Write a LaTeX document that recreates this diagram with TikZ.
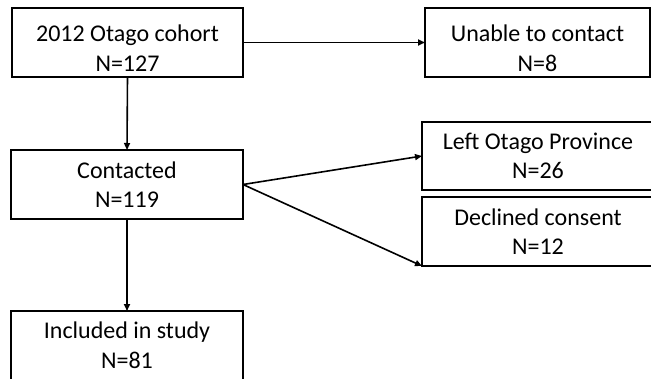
\documentclass[tikz,border=0pt]{standalone}
\usepackage{fontspec}
\setmainfont{Carlito}
\usetikzlibrary{arrows.meta}
\newcommand{\lowstrut}{\rule{0pt}{28pt}}
\begin{document}
\begin{tikzpicture}[x=1pt,y=-1pt,
  box/.style={draw=black, line width=1.6pt, rectangle, inner sep=0pt, outer sep=0pt,
    minimum height=69pt, align=center, font=\fontsize{24}{29.5}\selectfont, text=black},
  arr/.style={line width=1.6pt, -{Triangle[length=7pt,width=6pt]}}]
\useasboundingbox (0,0) rectangle (651,378);
\clip (0,0) rectangle (651,378);
\fill[white] (0,0) rectangle (651,378);
\node[box, minimum width=231pt] (cohort) at (127.5,42.5) {\lowstrut 2012 Otago cohort\\N=127};
\node[box, minimum width=225pt] (unable) at (537.5,42.5) {\lowstrut Unable to contact\\N=8};
\node[box, minimum width=232pt] (contacted) at (127,184.5) {Contacted\\N=119};
\node[box, minimum width=232pt, minimum height=68pt] (left) at (538,156) {Left Otago Province\\N=26};
\node[box, minimum width=232pt] (declined) at (538,231.5) {Declined consent\\N=12};
\node[box, minimum width=232pt] (included) at (127,345.5) {Included in study\\N=81};
\draw[arr] (cohort.east) -- (unable.west);
\draw[arr] (cohort.south) -- (contacted.north);
\draw[arr] (contacted.east) -- (left.west);
\draw[arr] (contacted.east) -- (declined.south west);
\draw[arr] (contacted.south) -- (included.north);
\end{tikzpicture}
\end{document}
